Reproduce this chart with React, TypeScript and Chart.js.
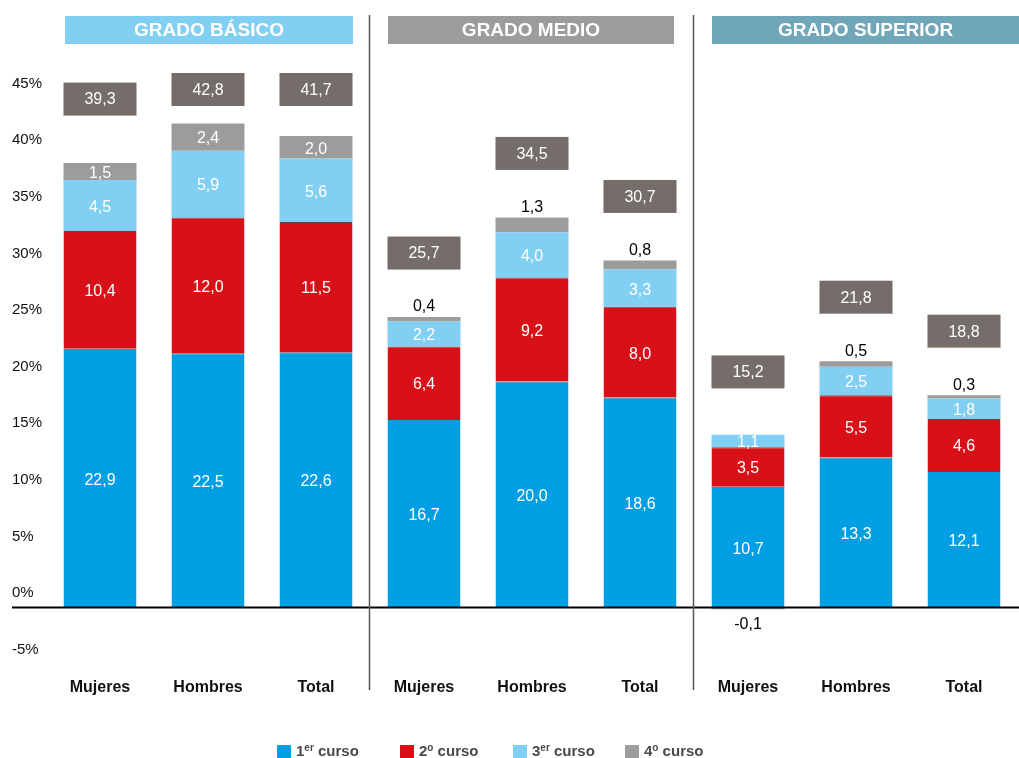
import React, { useEffect, useRef } from 'react';
import { Chart, registerables } from 'chart.js';
Chart.register(...registerables);

// ---- data ----
const categories = ['Mujeres', 'Hombres', 'Total', 'Mujeres', 'Hombres', 'Total', 'Mujeres', 'Hombres', 'Total'];
const groups = ['GRADO BÁSICO', 'GRADO MEDIO', 'GRADO SUPERIOR'];
const curso1 = [22.9, 22.5, 22.6, 16.7, 20.0, 18.6, 10.7, 13.3, 12.1];
const curso2 = [10.4, 12.0, 11.5, 6.4, 9.2, 8.0, 3.5, 5.5, 4.6];
const curso3 = [4.5, 5.9, 5.6, 2.2, 4.0, 3.3, 1.1, 2.5, 1.8];
const curso4 = [1.5, 2.4, 2.0, 0.4, 1.3, 0.8, -0.1, 0.5, 0.3];
const totals = [39.3, 42.8, 41.7, 25.7, 34.5, 30.7, 15.2, 21.8, 18.8];
const seriesNames = ['1|er| curso', '2|o| curso', '3|er| curso', '4|o| curso'];

// ---- styles ----
const FONT = '"Liberation Sans", Arial, Helvetica, sans-serif';
const seriesColors = ['#009FE3', '#D81118', '#82CFF4', '#9D9C9B'];
const headerColors = ['#82CFF4', '#9D9C9B', '#6FA6B8'];
const boxColor = '#756D6A';
const legendLeft = [277, 400, 513, 625];

const fmt = (v: number) => v.toFixed(1).replace('.', ',');

export default function App() {
  const ref = useRef<HTMLCanvasElement>(null);

  useEffect(() => {
    const overlay = {
      id: 'overlay',
      afterDatasetsDraw(chart: any) {
        const ctx = chart.ctx;
        const xs = chart.scales.x;
        const ys = chart.scales.y;
        const W = chart.width;
        ctx.save();
        // zero line
        const y0 = ys.getPixelForValue(0);
        ctx.strokeStyle = '#000';
        ctx.lineWidth = 2;
        ctx.beginPath();
        ctx.moveTo(12, y0 - 0.5);
        ctx.lineTo(W, y0 - 0.5);
        ctx.stroke();
        // separators
        ctx.strokeStyle = '#555';
        ctx.lineWidth = 1.5;
        for (let g = 1; g < groups.length; g++) {
          const sx = Math.round((xs.getPixelForValue(g * 3 - 1) + xs.getPixelForValue(g * 3)) / 2) - 0.5;
          ctx.beginPath();
          ctx.moveTo(sx, 15);
          ctx.lineTo(sx, 690);
          ctx.stroke();
        }
        // segment labels
        ctx.font = `16px ${FONT}`;
        ctx.textAlign = 'center';
        chart.data.datasets.forEach((ds: any, i: number) => {
          const meta = chart.getDatasetMeta(i);
          meta.data.forEach((el: any, j: number) => {
            const v = ds.data[j] as number;
            const p = el.getProps(['x', 'y', 'base'], true);
            if (i === 3 && Math.abs(v) < 1.4) {
              ctx.fillStyle = '#000';
              if (v >= 0) {
                ctx.textBaseline = 'bottom';
                ctx.fillText(fmt(v), p.x, Math.min(p.y, p.base) - 2);
              } else {
                ctx.textBaseline = 'top';
                ctx.fillText(fmt(v), p.x, Math.max(p.y, p.base) + 7);
              }
            } else {
              ctx.fillStyle = '#fff';
              ctx.textBaseline = 'middle';
              ctx.fillText(fmt(v), p.x, (p.y + p.base) / 2 + 2);
            }
          });
        });
        // total boxes
        const meta0 = chart.getDatasetMeta(0);
        totals.forEach((t, j) => {
          const el: any = meta0.data[j];
          const w = el.width;
          const cx = el.x;
          let cy = ys.getPixelForValue(t) - 64;
          if (cy < 89.5) cy = 89.5;
          ctx.fillStyle = boxColor;
          ctx.fillRect(cx - w / 2, cy - 16.5, w, 33);
          ctx.fillStyle = '#fff';
          ctx.textBaseline = 'middle';
          ctx.fillText(fmt(t), cx, cy + 1);
        });
        // headers
        ctx.font = `bold 19px ${FONT}`;
        const step = xs.getPixelForValue(1) - xs.getPixelForValue(0);
        groups.forEach((g, k) => {
          const left = xs.getPixelForValue(k * 3) - step / 2;
          const right = xs.getPixelForValue(k * 3 + 2) + step / 2;
          const x1 = left + (k === 0 ? 19 : 18);
          const x2 = k === groups.length - 1 ? W : right - (k === 0 ? 17 : 20);
          ctx.fillStyle = headerColors[k];
          ctx.fillRect(x1, 16, x2 - x1, 28);
          ctx.fillStyle = '#fff';
          ctx.textBaseline = 'middle';
          ctx.fillText(g, (x1 + x2) / 2, 31);
        });
        ctx.restore();
      },
    };

    const mk = (data: number[], i: number) => ({
      label: seriesNames[i].replace(/\|/g, ''),
      data,
      backgroundColor: seriesColors[i],
      borderColor: i < 2 ? 'rgba(50,0,0,0.75)' : seriesColors[i],
      borderWidth: i < 2 ? { top: 1, left: 0, right: 0, bottom: 0 } : 0,
      borderSkipped: false,
      barPercentage: 0.676,
      categoryPercentage: 1,
    });

    const chart = new Chart(ref.current!, {
      type: 'bar',
      data: {
        labels: categories,
        datasets: [mk(curso1, 0), mk(curso2, 1), mk(curso3, 2), mk(curso4, 3)],
      },
      plugins: [overlay],
      options: {
        responsive: false,
        animation: false,
        layout: { padding: { left: 12, right: 1, top: 64.6, bottom: 0 } },
        plugins: { legend: { display: false }, tooltip: { enabled: false } },
        scales: {
          x: {
            stacked: true,
            grid: { display: false },
            border: { display: false },
            ticks: { font: { family: FONT, size: 16, weight: 'bold' }, color: '#111', padding: 5, maxRotation: 0 },
            afterFit: (s: any) => { s.height = 93.4; },
          },
          y: {
            stacked: true,
            min: -5,
            max: 48,
            grid: { display: false },
            border: { display: false },
            ticks: {
              stepSize: 5,
              includeBounds: false,
              crossAlign: 'far',
              labelOffset: -15,
              padding: 0,
              color: '#111',
              font: { family: FONT, size: 15 },
              callback: (v: any) => (Number(v) % 5 === 0 ? `${v}%` : ''),
            },
            afterFit: (s: any) => { s.width = 34; },
          },
        },
      } as any,
    });
    return () => chart.destroy();
  }, []);

  return (
    <div style={{ position: 'fixed', left: 0, top: 0, width: 1019, height: 758, background: '#fff' }}>
      <canvas ref={ref} width={1019} height={758} style={{ position: 'absolute', left: 0, top: 0 }} />
      {seriesNames.map((n, i) => {
        const [a, sup, b] = n.split('|');
        return (
          <div
            key={i}
            style={{
              position: 'absolute', left: legendLeft[i], top: 743, height: 18,
              display: 'flex', alignItems: 'center',
              fontFamily: FONT, fontWeight: 'bold', fontSize: 15, color: '#4a4a4a', whiteSpace: 'nowrap',
            }}
          >
            <span style={{ display: 'inline-block', width: 14, height: 14, background: seriesColors[i], marginRight: 5 }} />
            <span style={{ lineHeight: '18px' }}>
              {a}
              <span style={{ fontSize: 10, position: 'relative', top: -5 }}>{sup}</span>
              {b}
            </span>
          </div>
        );
      })}
    </div>
  );
}
